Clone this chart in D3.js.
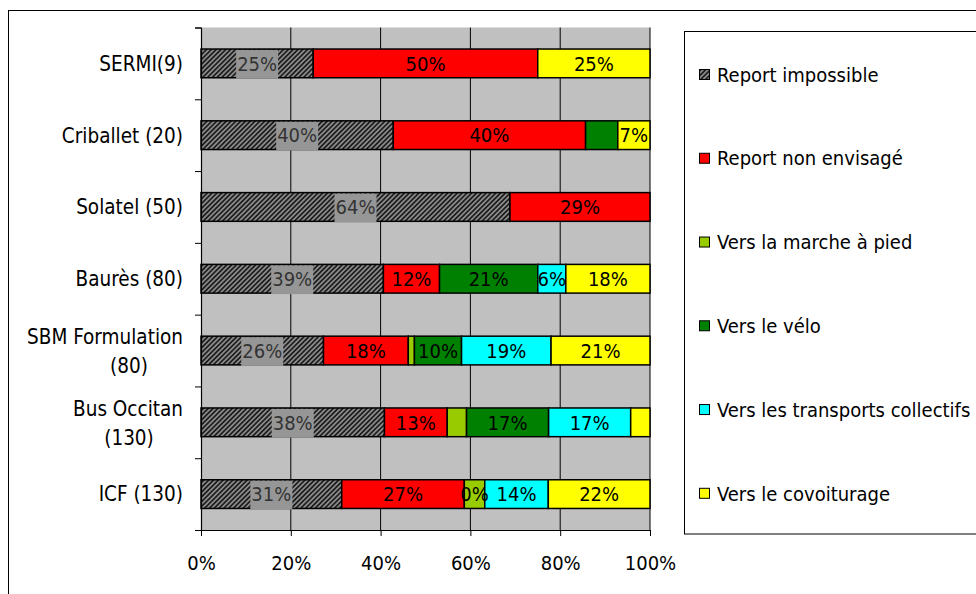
<!DOCTYPE html>
<html><head><meta charset="utf-8">
<script src="https://cdn.jsdelivr.net/npm/d3@7"></script>
<style>
body{margin:0;background:#fff}
svg{display:block}
text{font-family:"DejaVu Sans Condensed","DejaVu Sans",sans-serif;font-stretch:condensed;}
</style>
</head><body>
<svg id="c" width="976" height="594"></svg>
<script>
// ---------- data ----------
const categories = ["SERMI(9)", "Criballet (20)", "Solatel (50)", "Baurès (80)", "SBM Formulation (80)", "Bus Occitan (130)", "ICF (130)"];
const categoryLines = [["SERMI(9)"], ["Criballet (20)"], ["Solatel (50)"], ["Baurès (80)"], ["SBM Formulation", "(80)"], ["Bus Occitan", "(130)"], ["ICF (130)"]];
const seriesNames = ["Report impossible", "Report non envisagé", "Vers la marche à pied", "Vers le vélo", "Vers les transports collectifs", "Vers le covoiturage"];
const reportImpossible   = [25, 40, 64, 39, 26, 38, 31];
const reportNonEnvisage  = [50, 40, 29, 12, 18, 13, 27];
const versMarche         = [0, 0, 0, 0, 1.3, 4, 4.5];
const versVelo           = [0, 6.7, 0, 21, 10, 17, 0];
const versTransports     = [0, 0, 0, 6, 19, 17, 14];
const versCovoiturage    = [25, 6.7, 0, 18, 21, 4, 22.4];
const labelsImpossible   = ["25%", "40%", "64%", "39%", "26%", "38%", "31%"];
const labelsNonEnvisage  = ["50%", "40%", "29%", "12%", "18%", "13%", "27%"];
const labelsMarche       = ["", "", "", "", "", "", "0%"];
const labelsVelo         = ["", "", "", "21%", "10%", "17%", ""];
const labelsTransports   = ["", "", "", "6%", "19%", "17%", "14%"];
const labelsCovoiturage  = ["25%", "7%", "", "18%", "21%", "", "22%"];
const xTicks = [0, 0.2, 0.4, 0.6, 0.8, 1];

// ---------- build ----------
const seriesValues = [reportImpossible, reportNonEnvisage, versMarche, versVelo, versTransports, versCovoiturage];
const seriesLabels = [labelsImpossible, labelsNonEnvisage, labelsMarche, labelsVelo, labelsTransports, labelsCovoiturage];
const colors = ["url(#hatch)", "#FF0000", "#99CC00", "#008000", "#00FFFF", "#FFFF00"];

const rows = categories.map((c, i) => {
  const o = {cat: c, idx: i};
  seriesNames.forEach((s, j) => o[s] = seriesValues[j][i]);
  return o;
});
const stacked = d3.stack().keys(seriesNames).offset(d3.stackOffsetExpand)(rows);

const svg = d3.select("#c");
const defs = svg.append("defs");
const pat = defs.append("pattern").attr("id", "hatch").attr("patternUnits", "userSpaceOnUse")
  .attr("width", 3.4).attr("height", 3.4).attr("patternTransform", "rotate(45)");
pat.append("rect").attr("width", 3.4).attr("height", 3.4).attr("fill", "#8a8a8a");
pat.append("rect").attr("width", 1.7).attr("height", 3.4).attr("fill", "#1e1e1e");

svg.append("rect").attr("width", 976).attr("height", 594).attr("fill", "#fff");
// outer frame
svg.append("rect").attr("x", 8.5).attr("y", 10.5).attr("width", 1100).attr("height", 1000)
  .attr("fill", "none").attr("stroke", "#000").attr("stroke-width", 1);

const x = d3.scaleLinear().domain([0, 1]).range([201, 650]);
const y = d3.scaleBand().domain(categories).range([27.5, 530]).paddingInner(0.6).paddingOuter(0.3);
const yIdx = d3.scaleLinear().domain([0, categories.length]).range([27.5, 530]);

// plot background
svg.append("rect").attr("x", x(0)).attr("y", 27.5).attr("width", x(1) - x(0)).attr("height", 530 - 27.5)
  .attr("fill", "#C0C0C0");
// gridlines
svg.append("g").selectAll("line").data(xTicks.slice(1)).join("line")
  .attr("x1", d => x(d)).attr("x2", d => x(d)).attr("y1", 27.5).attr("y2", 530)
  .attr("stroke", "#000").attr("stroke-width", 1);

// bars
const g = svg.append("g");
stacked.forEach((layer, j) => {
  g.append("g").selectAll("rect").data(layer.filter(d => d[1] - d[0] > 0)).join("rect")
    .attr("x", d => x(d[0])).attr("width", d => x(d[1]) - x(d[0]))
    .attr("y", d => y(d.data.cat)).attr("height", y.bandwidth())
    .attr("fill", colors[j]).attr("stroke", "#000").attr("stroke-width", 1.5);
});

// axes
svg.append("g").attr("transform", "translate(201,0)")
  .call(d3.axisLeft(yIdx).ticks(categories.length).tickSize(6).tickFormat(""))
  .call(a => { a.select(".domain").attr("stroke", "#000").attr("stroke-width", 1.2); a.selectAll(".tick line").attr("stroke", "#000"); });
const xa = svg.append("g").attr("transform", "translate(0,530)")
  .call(d3.axisBottom(x).tickValues(xTicks).tickFormat(d3.format(".0%")).tickSize(6).tickSizeOuter(0));
xa.select(".domain").attr("stroke", "#000").attr("stroke-width", 1.2);
xa.selectAll(".tick line").attr("stroke", "#000");
xa.selectAll("text").attr("y", 33).attr("dy", "0.36em").attr("font-size", 20).attr("fill", "#000")
  .style("font-family", null);

// category labels
categoryLines.forEach((lines, i) => {
  const cy = y(categories[i]) + y.bandwidth() / 2;
  if (lines.length === 1) {
    svg.append("text").attr("x", 183).attr("y", cy).attr("dy", "0.36em").attr("text-anchor", "end")
      .attr("font-size", 20.5).text(lines[0]);
  } else {
    svg.append("text").attr("x", 183).attr("y", cy - 14).attr("dy", "0.36em").attr("text-anchor", "end")
      .attr("font-size", 20.5).text(lines[0]);
    svg.append("text").attr("x", 129).attr("y", cy + 15).attr("dy", "0.36em").attr("text-anchor", "middle")
      .attr("font-size", 20.5).text(lines[1]);
  }
});

// data labels
const lg = svg.append("g");
stacked.forEach((layer, j) => {
  layer.forEach((d, i) => {
    const t = seriesLabels[j][i];
    if (!t) return;
    const cx = (x(d[0]) + x(d[1])) / 2, cy = y(d.data.cat) + y.bandwidth() / 2;
    if (j === 0) {
      const tmp = lg.append("text").attr("font-size", 20).text(t);
      const w = tmp.node().getComputedTextLength();
      tmp.remove();
      lg.append("rect").attr("x", cx - w / 2 - 1).attr("y", y(d.data.cat) + 1)
        .attr("width", w + 2).attr("height", y.bandwidth()).attr("fill", "#969696");
      lg.append("text").attr("x", cx).attr("y", cy).attr("dy", "0.36em").attr("text-anchor", "middle")
        .attr("font-size", 20).attr("fill", "#333").text(t);
    } else {
      lg.append("text").attr("x", cx).attr("y", cy).attr("dy", "0.36em").attr("text-anchor", "middle")
        .attr("font-size", 20).attr("fill", "#000").text(t);
    }
  });
});

// legend
svg.append("rect").attr("x", 684.5).attr("y", 31.5).attr("width", 400).attr("height", 502.5)
  .attr("fill", "#fff").attr("stroke", "#000").attr("stroke-width", 1);
const legY = d3.scalePoint().domain(seriesNames).range([74.5, 493.3]);
seriesNames.forEach((s, j) => {
  const ly = legY(s);
  svg.append("rect").attr("x", 699.5).attr("y", ly - 5).attr("width", 10).attr("height", 10)
    .attr("fill", colors[j]).attr("stroke", "#000").attr("stroke-width", 1);
  svg.append("text").attr("x", 717).attr("y", ly).attr("dy", "0.36em").attr("font-size", 20).text(s);
});
</script>
</body></html>
